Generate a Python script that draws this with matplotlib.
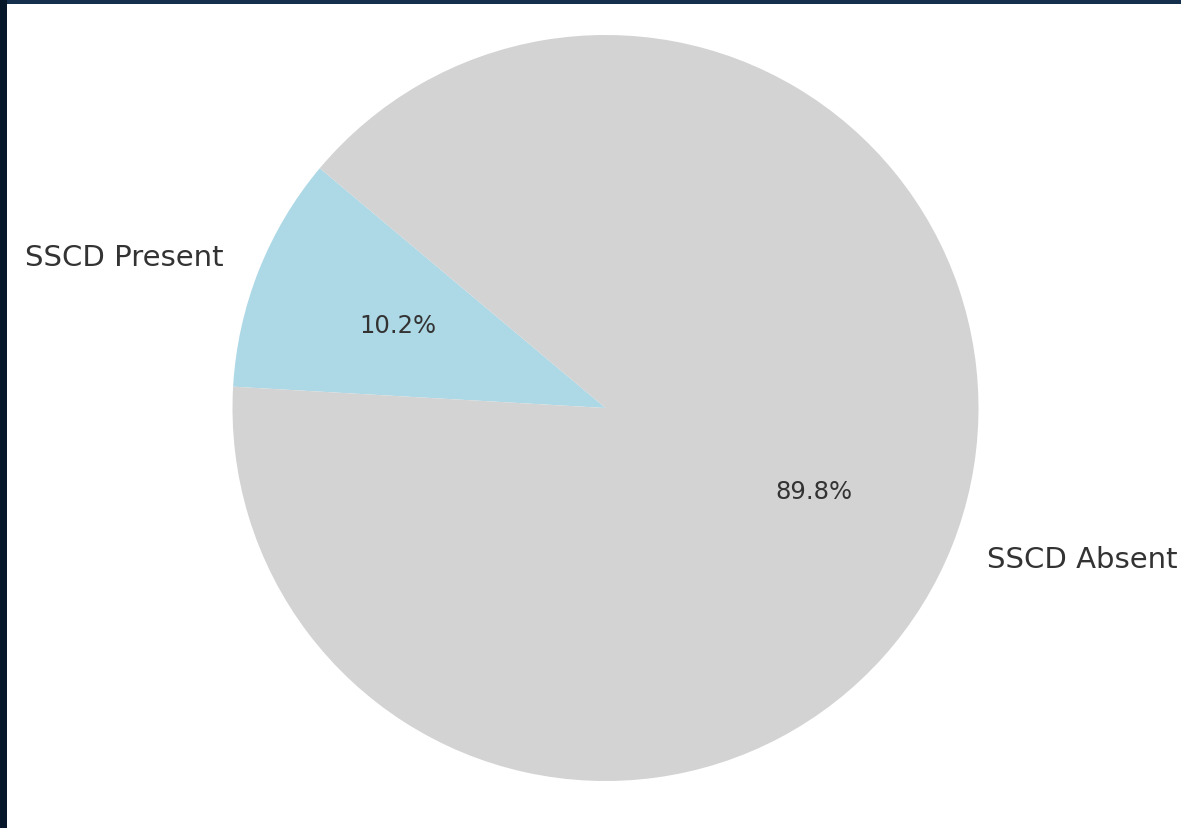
import matplotlib.pyplot as plt
from matplotlib.patches import Rectangle

labels = ["SSCD Present", "SSCD Absent"]
shares = [10.2, 89.8]
colors = ["#add8e6", "#d3d3d3"]

W, H = 1181, 829
fig = plt.figure(figsize=(W / 100, H / 100), dpi=100, facecolor="white")

# dark screenshot edges (top and left)
fig.patches.append(Rectangle((0, 1 - 5 / H), 1, 5 / H, transform=fig.transFigure,
                             facecolor="#14304d", edgecolor="none", zorder=10))
fig.patches.append(Rectangle((0, 0), 7 / W, 1, transform=fig.transFigure,
                             facecolor="#07172a", edgecolor="none", zorder=10))

# pie centre (605, 408) px from top-left, radius ~373 px
r_px = 373
lim = 1.3
side = 2 * lim * r_px
cx, cy = 605.5, H - 409
ax = fig.add_axes([(cx - side / 2) / W, (cy - side / 2) / H, side / W, side / H])

ax.pie(shares, labels=labels, colors=colors, startangle=140,
       autopct="%1.1f%%", pctdistance=0.6, labeldistance=1.1,
       textprops={"color": "#333333", "fontsize": 21})
for t in ax.texts:
    if t.get_text().endswith("%"):
        t.set_fontsize(17.5)
ax.set_xlim(-lim, lim)
ax.set_ylim(-lim, lim)
ax.set_aspect("equal")
ax.axis("off")

fig.savefig("out.png", dpi=100, facecolor="white")
